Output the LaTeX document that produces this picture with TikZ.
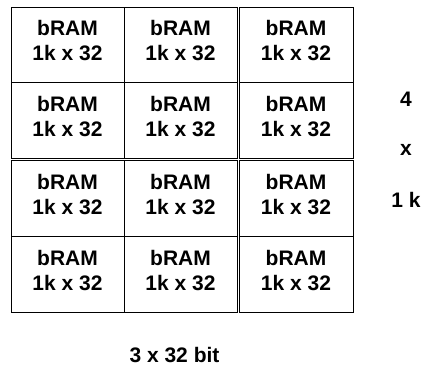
\documentclass[tikz,border=0pt]{standalone}
\usepackage{fontspec}
\setmainfont{Liberation Sans}
\usepackage{tikz}
\newcommand{\RAMTXT}{bRAM\\1k x 32}

\begin{document}
\begin{tikzpicture}[x=1pt,y=-1pt]
      \tikzstyle{every node}=[font=\bfseries\fontsize{21}{25}\selectfont,
			      inner sep=0pt]
      \tikzstyle{bram}=[draw,line width=1pt,align=center,
			      minimum width=113pt,minimum height=76pt,text depth=8pt]
      \useasboundingbox (0,0) rectangle (422,367);
      % first two rows
      \node (ram11) [bram,minimum height=75pt] at (67.5,44.5) {\RAMTXT};
      \node (ram12) [bram,minimum height=75pt] at (180.5,44.5) {\RAMTXT};
      \node (ram13) [bram,minimum height=75pt,minimum width=114pt] at (296,44.5) {\RAMTXT};
      \node (ram21) [bram] at (67.5,120) {\RAMTXT};
      \node (ram22) [bram] at (180.5,120) {\RAMTXT};
      \node (ram23) [bram,minimum width=114pt] at (296,120) {\RAMTXT};
      % last two rows
      \node (ram31) [bram] at (67.5,198) {\RAMTXT};
      \node (ram32) [bram] at (180.5,198) {\RAMTXT};
      \node (ram33) [bram,minimum width=114pt] at (296,198) {\RAMTXT};
      \node (ram41) [bram] at (67.5,274) {\RAMTXT};
      \node (ram42) [bram] at (180.5,274) {\RAMTXT};
      \node (ram43) [bram,minimum width=114pt] at (296,274) {\RAMTXT};
      % sizes
      \node (depth4) at (406,99) {4};
      \node (depthx) at (406,150) {x};
      \node (depth1k) at (406,200) {1 k};
      \node (width) at (174.5,355) {3 x 32 bit};
  \end{tikzpicture}
\end{document}
